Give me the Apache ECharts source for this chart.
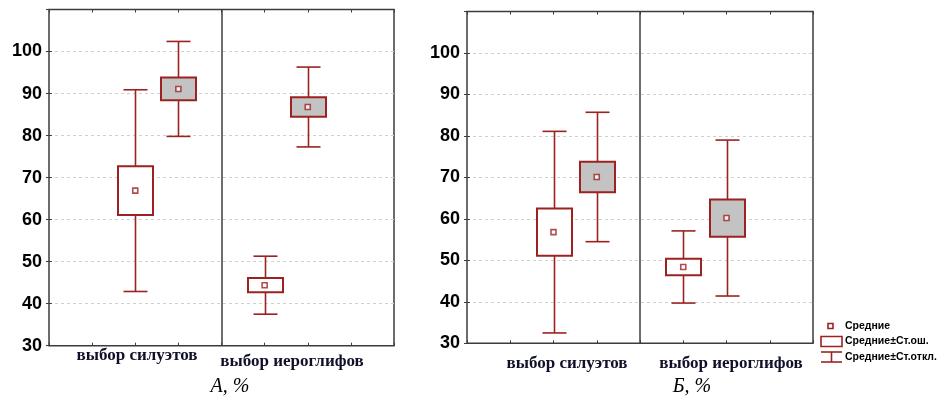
<!DOCTYPE html>
<html>
<head>
<meta charset="utf-8">
<script src="https://cdn.jsdelivr.net/npm/echarts@6/dist/echarts.min.js"></script>
<style>
  html, body { margin: 0; padding: 0; background: #ffffff; }
  #chart { width: 945px; height: 399px; }
</style>
</head>
<body>
<div id="chart"></div>
<script>
// Groups shown in each panel
const categories = ['выбор силуэтов', 'выбор иероглифов'];
const yTickValues = [30, 40, 50, 60, 70, 80, 90, 100];
const panelTitles = ['А, %', 'Б, %'];
const legendLabels = ['Средние', 'Средние±Ст.ош.', 'Средние±Ст.откл.'];

// Panel А: mean, standard error, standard deviation
const meanA_first = [66.9, 44.4];
const seA_first = [5.8, 1.7];
const sdA_first = [24.0, 6.9];
const meanA_second = [91.1, 86.8];
const seA_second = [2.7, 2.3];
const sdA_second = [11.3, 9.5];

// Panel Б: mean, standard error, standard deviation
const meanB_first = [56.8, 48.4];
const seB_first = [5.7, 2.0];
const sdB_first = [24.3, 8.7];
const meanB_second = [70.1, 60.2];
const seB_second = [3.7, 4.5];
const sdB_second = [15.6, 18.8];

const RED = '#9c2222';
const FRAME = '#3c3c3c';
const GRAY_FILL = '#c3c3c3';
// slot of each box on the 0..8 x scale (4 = divider between groups)
const SLOT_FIRST = [2, 5];
const SLOT_SECOND = [3, 6];

function rows(slots, mean, spread) {
  return mean.map((m, i) => [slots[i], m, spread[i]]);
}

function renderWhisker(params, api) {
  const x = api.value(0), m = api.value(1), s = api.value(2);
  const top = api.coord([x, m + s]);
  const bot = api.coord([x, m - s]);
  const cx = Math.round(top[0]) + 0.5;
  const hw = 12;
  const st = { stroke: RED, lineWidth: 1.6 };
  return {
    type: 'group',
    children: [
      { type: 'line', shape: { x1: cx, y1: top[1], x2: cx, y2: bot[1] }, style: st },
      { type: 'line', shape: { x1: cx - hw, y1: top[1], x2: cx + hw, y2: top[1] }, style: st },
      { type: 'line', shape: { x1: cx - hw, y1: bot[1], x2: cx + hw, y2: bot[1] }, style: st }
    ]
  };
}

function boxRenderer(fill) {
  return function (params, api) {
    const x = api.value(0), m = api.value(1), s = api.value(2);
    const a = api.coord([x, m + s]);
    const b = api.coord([x, m - s]);
    const cx = Math.round(a[0]) + 0.5;
    return {
      type: 'rect',
      shape: { x: cx - 17.5, y: a[1], width: 35, height: b[1] - a[1] },
      style: { fill: fill, stroke: RED, lineWidth: 2 }
    };
  };
}

const grids = [
  { left: 49, top: 9.5, width: 345, height: 336.2 },
  { left: 467, top: 11.5, width: 346, height: 331.8 }
];

const xAxes = [], yAxes = [], series = [];
const panels = [
  { first: [meanA_first, seA_first, sdA_first], second: [meanA_second, seA_second, sdA_second] },
  { first: [meanB_first, seB_first, sdB_first], second: [meanB_second, seB_second, sdB_second] }
];

panels.forEach((p, gi) => {
  ['bottom', 'top'].forEach(pos => {
    xAxes.push({
      type: 'value', gridIndex: gi, position: pos, min: 0, max: 8, interval: 1,
      axisLine: { show: false },
      axisTick: { show: true, inside: true, length: 3, lineStyle: { color: FRAME, width: 1 } },
      axisLabel: { show: false }, splitLine: { show: false }
    });
  });
  ['left', 'right'].forEach(pos => {
    yAxes.push({
      type: 'value', gridIndex: gi, position: pos, min: 30, max: 110, interval: 10,
      axisLine: { show: false },
      axisTick: { show: true, inside: true, length: 3, lineStyle: { color: FRAME, width: 1 } },
      axisLabel: pos === 'left' ? {
        show: true, margin: 7, color: '#000', fontFamily: 'Liberation Sans, Arial, sans-serif',
        fontWeight: 'bold', fontSize: 18,
        formatter: v => (yTickValues.indexOf(v) >= 0 ? String(v) : '')
      } : { show: false },
      splitLine: pos === 'left' ? {
        show: true, showMinLine: false, showMaxLine: false,
        lineStyle: { color: '#d0d0d0', type: [3, 3], width: 1 }
      } : { show: false }
    });
  });

  const xi = gi * 2, yi = gi * 2;
  const whiskerData = rows(SLOT_FIRST, p.first[0], p.first[2])
    .concat(rows(SLOT_SECOND, p.second[0], p.second[2]));
  series.push({
    name: legendLabels[2], type: 'custom', xAxisIndex: xi, yAxisIndex: yi,
    renderItem: renderWhisker, encode: { x: 0, y: 1 }, data: whiskerData, z: 2,
    markLine: {
      silent: true, symbol: ['none', 'none'], label: { show: false },
      lineStyle: { color: FRAME, type: 'solid', width: 1.5 },
      data: [{ xAxis: 4 }]
    }
  });
  series.push({
    name: legendLabels[1], type: 'custom', xAxisIndex: xi, yAxisIndex: yi,
    renderItem: boxRenderer('#ffffff'), encode: { x: 0, y: 1 },
    data: rows(SLOT_FIRST, p.first[0], p.first[1]), z: 3
  });
  series.push({
    name: legendLabels[1], type: 'custom', xAxisIndex: xi, yAxisIndex: yi,
    renderItem: boxRenderer(GRAY_FILL), encode: { x: 0, y: 1 },
    data: rows(SLOT_SECOND, p.second[0], p.second[1]), z: 3
  });
  series.push({
    name: legendLabels[0], type: 'scatter', xAxisIndex: xi, yAxisIndex: yi,
    symbol: 'rect', symbolSize: 5,
    itemStyle: { color: '#ffffff', borderColor: RED, borderWidth: 1.6 },
    data: SLOT_FIRST.map((x, i) => [x, p.first[0][i]])
      .concat(SLOT_SECOND.map((x, i) => [x, p.second[0][i]])),
    z: 4
  });
});

const labelFont = { fontFamily: 'Liberation Serif, Times New Roman, serif', fontWeight: 'bold', fontSize: 17, fill: '#10102a' };
function catLabel(text, x, y) {
  return { type: 'text', x: x, y: y, style: Object.assign({ text: text, textAlign: 'center', textVerticalAlign: 'middle' }, labelFont) };
}
const titleFont = { fontFamily: 'Liberation Serif, Times New Roman, serif', fontStyle: 'italic', fontSize: 20, fill: '#000' };
const legendFont = { fontFamily: 'Liberation Sans, Arial, sans-serif', fontWeight: 'bold', fontSize: 10.5, fill: '#000' };

const graphic = [
  catLabel(categories[0], 137, 356),
  catLabel(categories[1], 292, 362),
  catLabel(categories[0], 567, 364),
  catLabel(categories[1], 731, 364),
  { type: 'text', x: 230, y: 387, style: Object.assign({ text: panelTitles[0], textAlign: 'center', textVerticalAlign: 'middle' }, titleFont) },
  { type: 'text', x: 692, y: 387, style: Object.assign({ text: panelTitles[1], textAlign: 'center', textVerticalAlign: 'middle' }, titleFont) },
  // legend
  { type: 'rect', shape: { x: 828, y: 323.5, width: 5, height: 5 }, style: { fill: '#fff', stroke: RED, lineWidth: 1.6 } },
  { type: 'rect', shape: { x: 821, y: 336.5, width: 21, height: 10 }, style: { fill: '#fff', stroke: RED, lineWidth: 1.6 } },
  { type: 'line', shape: { x1: 821, y1: 352, x2: 842, y2: 352 }, style: { stroke: RED, lineWidth: 1.6 } },
  { type: 'line', shape: { x1: 831.5, y1: 352, x2: 831.5, y2: 362 }, style: { stroke: RED, lineWidth: 1.6 } },
  { type: 'line', shape: { x1: 821, y1: 362, x2: 842, y2: 362 }, style: { stroke: RED, lineWidth: 1.6 } },
  { type: 'text', x: 845, y: 326, style: Object.assign({ text: legendLabels[0], textVerticalAlign: 'middle' }, legendFont) },
  { type: 'text', x: 845, y: 341.5, style: Object.assign({ text: legendLabels[1], textVerticalAlign: 'middle' }, legendFont) },
  { type: 'text', x: 845, y: 357, style: Object.assign({ text: legendLabels[2], textVerticalAlign: 'middle' }, legendFont) }
];

const chart = echarts.init(document.getElementById('chart'), null, { renderer: 'canvas' });
chart.setOption({
  animation: false,
  backgroundColor: '#ffffff',
  grid: grids.map(g => Object.assign({ show: true, borderColor: FRAME, borderWidth: 1.5, backgroundColor: 'transparent' }, g)),
  xAxis: xAxes,
  yAxis: yAxes,
  series: series,
  graphic: graphic
});
</script>
</body>
</html>
